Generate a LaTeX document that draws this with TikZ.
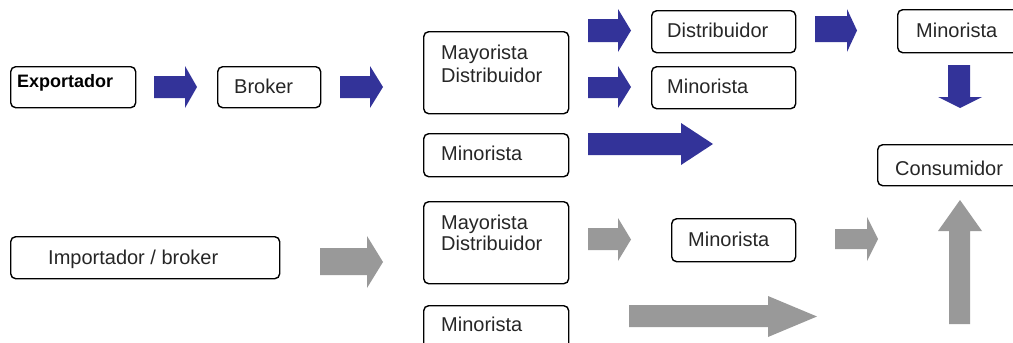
\documentclass[tikz,border=0pt]{standalone}
\usepackage{fontspec}
\setmainfont{Liberation Sans}
\definecolor{arrblue}{HTML}{333399}
\definecolor{arrgray}{HTML}{999999}
\newcommand\rarr[8]{\fill[#1] (#2,#4) -- (#8,#4) -- (#8,#6) -- (#3,{(#6+#7)/2}) -- (#8,#7) -- (#8,#5) -- (#2,#5) -- cycle;}
\begin{document}
\begin{tikzpicture}[x=1pt,y=-1pt,
  box/.style={draw=black, line width=1.4pt, rounded corners=5pt, inner sep=0pt, anchor=north west},
  txt/.style={font=\fontsize{20}{24}\selectfont, inner sep=0pt, anchor=base west, text=black!85},
  btxt/.style={font=\fontsize{18}{22}\selectfont\bfseries, inner sep=0pt, anchor=base west}]
\useasboundingbox (0,0) rectangle (1013,343);
\clip (0,0) rectangle (1013,343);
% boxes
\node[box, minimum width=125pt, minimum height=41pt] (exp) at (10,66) {};
\node[btxt] (expt) at (17,87) {Exportador};
\node[box, minimum width=103pt, minimum height=41pt] (bro) at (217,66) {};
\node[txt] (brot) at (234,93) {Broker};
\node[box, minimum width=145pt, minimum height=82pt] (may1) at (423,31) {};
\node[txt] (may1a) at (441,59) {Mayorista};
\node[txt] (may1b) at (441,82) {Distribuidor};
\node[box, minimum width=145pt, minimum height=43pt] (min1) at (423,133) {};
\node[txt] (min1t) at (441,160) {Minorista};
\node[box, minimum width=144pt, minimum height=42pt] (dis) at (651,10) {};
\node[txt] (dist) at (667,37) {Distribuidor};
\node[box, minimum width=144pt, minimum height=42pt] (min2) at (651,66) {};
\node[txt] (min2t) at (667,93) {Minorista};
\node[box, minimum width=130pt, minimum height=43pt] (min3) at (897,9) {};
\node[txt] (min3t) at (916,37) {Minorista};
\node[box, minimum width=150pt, minimum height=41pt] (con) at (877,144) {};
\node[txt] (cont) at (895,175) {Consumidor};
\node[box, minimum width=269pt, minimum height=42pt] (imp) at (10,236) {};
\node[txt] (impt) at (48,264) {Importador / broker};
\node[box, minimum width=145pt, minimum height=82pt] (may2) at (423,201) {};
\node[txt] (may2a) at (441,229) {Mayorista};
\node[txt] (may2b) at (441,250) {Distribuidor};
\node[box, minimum width=124pt, minimum height=43pt] (min4) at (671,218) {};
\node[txt] (min4t) at (688,246) {Minorista};
\node[box, minimum width=145pt, minimum height=60pt] (min5) at (423,305) {};
\node[txt] (min5t) at (441,331) {Minorista};
% blue arrows
\rarr{arrblue}{154}{197}{76}{98}{66}{108}{185}
\rarr{arrblue}{340}{383}{76}{98}{66}{108}{370}
\rarr{arrblue}{588}{631}{19}{42}{9}{52}{618}
\rarr{arrblue}{588}{631}{77}{98}{66}{108}{618}
\rarr{arrblue}{588}{713}{133}{155}{123}{165}{681}
\rarr{arrblue}{815}{857}{16}{42}{9}{52}{847}
\fill[arrblue] (948,65) -- (970,65) -- (970,97) -- (982,97) -- (960,108) -- (938,97) -- (948,97) -- cycle;
% gray arrows
\rarr{arrgray}{320}{383}{248}{275}{236}{288}{367}
\rarr{arrgray}{588}{631}{228}{250}{218}{261}{618}
\rarr{arrgray}{835}{878}{229}{249}{217}{261}{867}
\rarr{arrgray}{629}{817}{305}{327}{296}{337}{768}
\fill[arrgray] (949,324) -- (970,324) -- (970,231) -- (982,231) -- (960,200) -- (938,231) -- (949,231) -- cycle;
\end{tikzpicture}
\end{document}
